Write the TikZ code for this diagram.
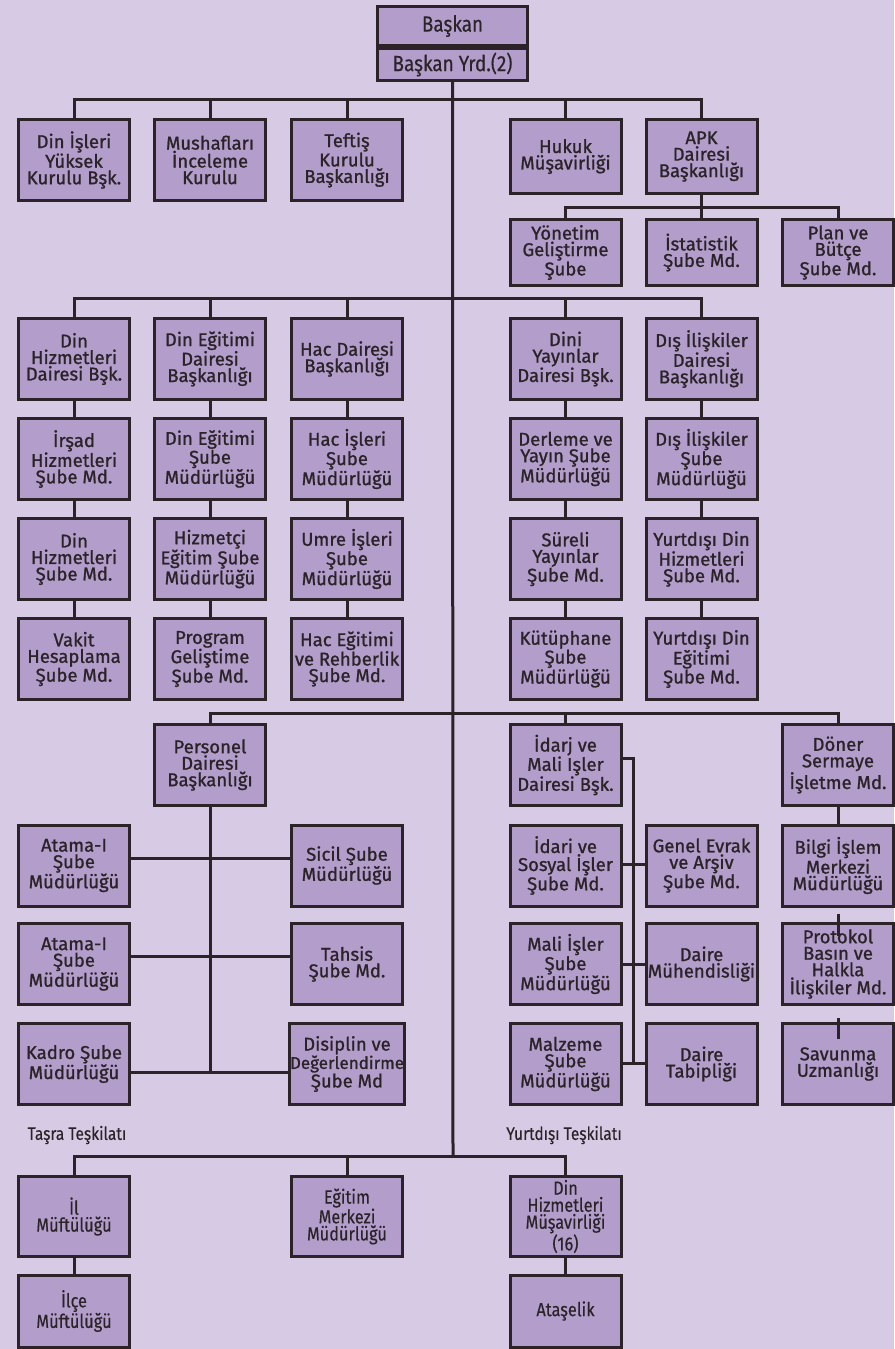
\documentclass[tikz,border=0pt]{standalone}
\usepackage{fontspec}
\setmainfont{Fira Sans}
\newfontfamily\boxfont{Fira Sans}[FakeBold=1]
\newfontfamily\condfont{Fira Sans}[FakeStretch=0.86, FakeBold=0.3]
\usepackage{tikz}
\definecolor{bgc}{HTML}{D6CAE4}
\definecolor{boxc}{HTML}{B39DCB}
\definecolor{inkc}{HTML}{2B2328}

\begin{document}
\begin{tikzpicture}[
  x=1pt, y=-1pt,
  box/.style={draw=inkc, fill=boxc, line width=3pt, align=center, text=inkc,
    minimum width=111pt, minimum height=81pt, inner sep=1pt,
    font=\boxfont\fontsize{18.5}{16.5}\selectfont},
  short/.style={minimum height=74pt},
  small/.style={minimum height=66pt},
  cbox/.style={box, minimum height=80pt, font=\condfont\fontsize{19}{17}\selectfont},
  link/.style={draw=inkc, line width=3pt},
  lbl/.style={text=inkc, font=\condfont\fontsize{18}{18}\selectfont}
]
\useasboundingbox (0,0) rectangle (894,1349);
\fill[bgc] (0,0) rectangle (894,1349);

% top
\node[box, minimum width=150pt, minimum height=39pt, font=\condfont\fontsize{22}{22}\selectfont] (bas) at (452.5,26) {Başkan};
\node[box, minimum width=150pt, minimum height=32pt, font=\condfont\fontsize{22}{22}\selectfont] (yrd) at (452.5,64.5) {Başkan Yrd.(2)};

% first row
\node[box] (dik) at (74,160) {Din İşleri\\Yüksek\\Kurulu Bşk.};
\node[box] (mus) at (210,160) {Mushafları\\İnceleme\\Kurulu};
\node[box] (tef) at (347,160) {Teftiş\\Kurulu\\Başkanlığı};
\node[box, short] (huk) at (565.5,156.5) {Hukuk\\Müşavirliği};
\node[box, short] (apk) at (701.5,156.5) {APK\\Dairesi\\Başkanlığı};
\node[box, small] (yon) at (565.5,252.5) {Yönetim\\Geliştirme\\Şube};
\node[box, small] (ist) at (701.5,252.5) {İstatistik\\Şube Md.};
\node[box, small] (pbs) at (838,252.5) {Plan ve\\Bütçe\\Şube Md.};

% second row
\node[box] (dhd) at (74,359) {Din\\Hizmetleri\\Dairesi Bşk.};
\node[box] (irs) at (74,459) {İrşad\\Hizmetleri\\Şube Md.};
\node[box] (dhs) at (74,559) {Din\\Hizmetleri\\Şube Md.};
\node[box] (vak) at (74,659) {Vakit\\Hesaplama\\Şube Md.};
\node[box] (ded) at (210,359) {Din Eğitimi\\Dairesi\\Başkanlığı};
\node[box] (des) at (210,459) {Din Eğitimi\\Şube\\Müdürlüğü};
\node[box] (hiz) at (210,559) {Hizmetçi\\Eğitim Şube\\Müdürlüğü};
\node[box] (prg) at (210,659) {Program\\Geliştime\\Şube Md.};
\node[box] (hac) at (347,359) {Hac Dairesi\\Başkanlığı};
\node[box] (his) at (347,459) {Hac İşleri\\Şube\\Müdürlüğü};
\node[box] (umr) at (347,559) {Umre İşleri\\Şube\\Müdürlüğü};
\node[box] (her) at (347,659) {Hac Eğitimi\\ve Rehberlik\\Şube Md.};
\node[box] (dyd) at (565.5,359) {Dini\\Yayınlar\\Dairesi Bşk.};
\node[box] (der) at (565.5,459) {Derleme ve\\Yayın Şube\\Müdürlüğü};
\node[box] (sur) at (565.5,559) {Süreli\\Yayınlar\\Şube Md.};
\node[box] (kut) at (565.5,659) {Kütüphane\\Şube\\Müdürlüğü};
\node[box] (dis) at (701.5,359) {Dış İlişkiler\\Dairesi\\Başkanlığı};
\node[box] (dsm) at (701.5,459) {Dış İlişkiler\\Şube\\Müdürlüğü};
\node[box] (ydh) at (701.5,559) {Yurtdışı Din\\Hizmetleri\\Şube Md.};
\node[box] (yde) at (701.5,659) {Yurtdışı Din\\Eğitimi\\Şube Md.};

% third row
\node[box] (per) at (210,765) {Personel\\Dairesi\\Başkanlığı};
\node[box] (at1) at (74,865.5) {Atama-I\\Şube\\Müdürlüğü};
\node[box] (at2) at (74,964) {Atama-I\\Şube\\Müdürlüğü};
\node[box] (kad) at (74,1064) {Kadro Şube\\Müdürlüğü};
\node[box] (sic) at (347,865.5) {Sicil Şube\\Müdürlüğü};
\node[box] (tah) at (347,964) {Tahsis\\Şube Md.};
\node[box, inner sep=0pt] (dsp) at (347,1064) {Disiplin ve\\\fontsize{17}{16.5}\selectfont Değerlendirme\\Şube Md};
\node[box] (ima) at (565.5,765) {İdarj ve\\Mali Işler\\Dairesi Bşk.};
\node[box] (ids) at (565.5,865.5) {İdari ve\\Sosyal İşler\\Şube Md.};
\node[box] (mal) at (565.5,964) {Mali İşler\\Şube\\Müdürlüğü};
\node[box] (mlz) at (565.5,1064) {Malzeme\\Şube\\Müdürlüğü};
\node[box] (gen) at (701.5,865.5) {Genel Evrak\\ve Arşiv\\Şube Md.};
\node[box] (muh) at (701.5,964) {Daire\\Mühendisliği};
\node[box] (tab) at (701.5,1064) {Daire\\Tabipliği};
\node[box] (don) at (838,765) {Döner\\Sermaye\\İşletme Md.};
\node[box] (bil) at (838,865.5) {Bilgi İşlem\\Merkezi\\Müdürlüğü};
\node[box] (pro) at (838,964) {Protokol\\Basın ve\\Halkla\\İlişkiler Md.};
\node[box] (sav) at (838,1064) {Savunma\\Uzmanlığı};

% provincial and abroad
\node[lbl] (tasra) at (77,1135) {Taşra Teşkilatı};
\node[lbl] (yurt) at (564,1135) {Yurtdışı Teşkilatı};
\node[cbox] (ilm) at (74,1216.5) {İl\\Müftülüğü};
\node[cbox] (egm) at (347,1216.5) {Eğitim\\Merkezi\\Müdürlüğü};
\node[cbox] (dhm) at (565.5,1216.5) {Din\\Hizmetleri\\Müşavirliği\\(16)};
\node[cbox, minimum height=72pt] (ilc) at (74,1311) {İlçe\\Müftülüğü};
\node[cbox, minimum height=72pt] (ata) at (565.5,1311) {Ataşelik};

% buses
\coordinate (bus1) at (453,99);
\coordinate (bus2) at (701.5,207);
\coordinate (bus3) at (453,298);
\coordinate (bus4) at (453,713);
\coordinate (tend) at (453,1156);
\coordinate (pend) at (210,1072);
\coordinate (ibus) at (633,758);
\coordinate (iend) at (633,1063);

\draw[link] (yrd.south) -- (tend);
\draw[link] (dik.north) |- (bus1) -| (apk.north);
\draw[link] (mus.north) -- (mus |- bus1);
\draw[link] (tef.north) -- (tef |- bus1);
\draw[link] (huk.north) -- (huk |- bus1);
\draw[link] (apk.south) -- (bus2);
\draw[link] (yon.north) |- (bus2) -| (pbs.north);
\draw[link] (ist.north) -- (ist |- bus2);

\draw[link] (dhd.north) |- (bus3) -| (dis.north);
\draw[link] (ded.north) -- (ded |- bus3);
\draw[link] (hac.north) -- (hac |- bus3);
\draw[link] (dyd.north) -- (dyd |- bus3);
\draw[link] (dhd) -- (irs) -- (dhs) -- (vak);
\draw[link] (ded) -- (des) -- (hiz) -- (prg);
\draw[link] (hac) -- (his) -- (umr) -- (her);
\draw[link] (dyd) -- (der) -- (sur) -- (kut);
\draw[link] (dis) -- (dsm) -- (ydh) -- (yde);

\draw[link] (per.north) |- (bus4) -| (don.north);
\draw[link] (ima.north) -- (ima |- bus4);
\draw[link] (per.south) -- (pend);
\draw[link] (at1.east |- 0,858) -- (sic.west |- 0,858);
\draw[link] (at2.east |- 0,956) -- (tah.west |- 0,956);
\draw[link] (kad.east |- pend) -- (dsp.west |- pend);

\draw[link] (ima.east |- ibus) -- (ibus) -- (iend);
\draw[link] (ids.east |- 0,864) -- (gen.west |- 0,864);
\draw[link] (mal.east) -- (muh.west);
\draw[link] (mlz.east |- iend) -- (tab.west |- iend);

\draw[link] (don.south) -- ++(0,20);
\draw[link] ([yshift=-6pt]bil.south) -- ++(0,22);
\draw[link] ([yshift=-12pt]pro.south) -- ++(0,21);

\draw[link] (ilm.north) |- (tend) -| (dhm.north);
\draw[link] (egm.north) -- (egm |- tend);
\draw[link] (ilm) -- (ilc);
\draw[link] (dhm) -- (ata);
\end{tikzpicture}
\end{document}
